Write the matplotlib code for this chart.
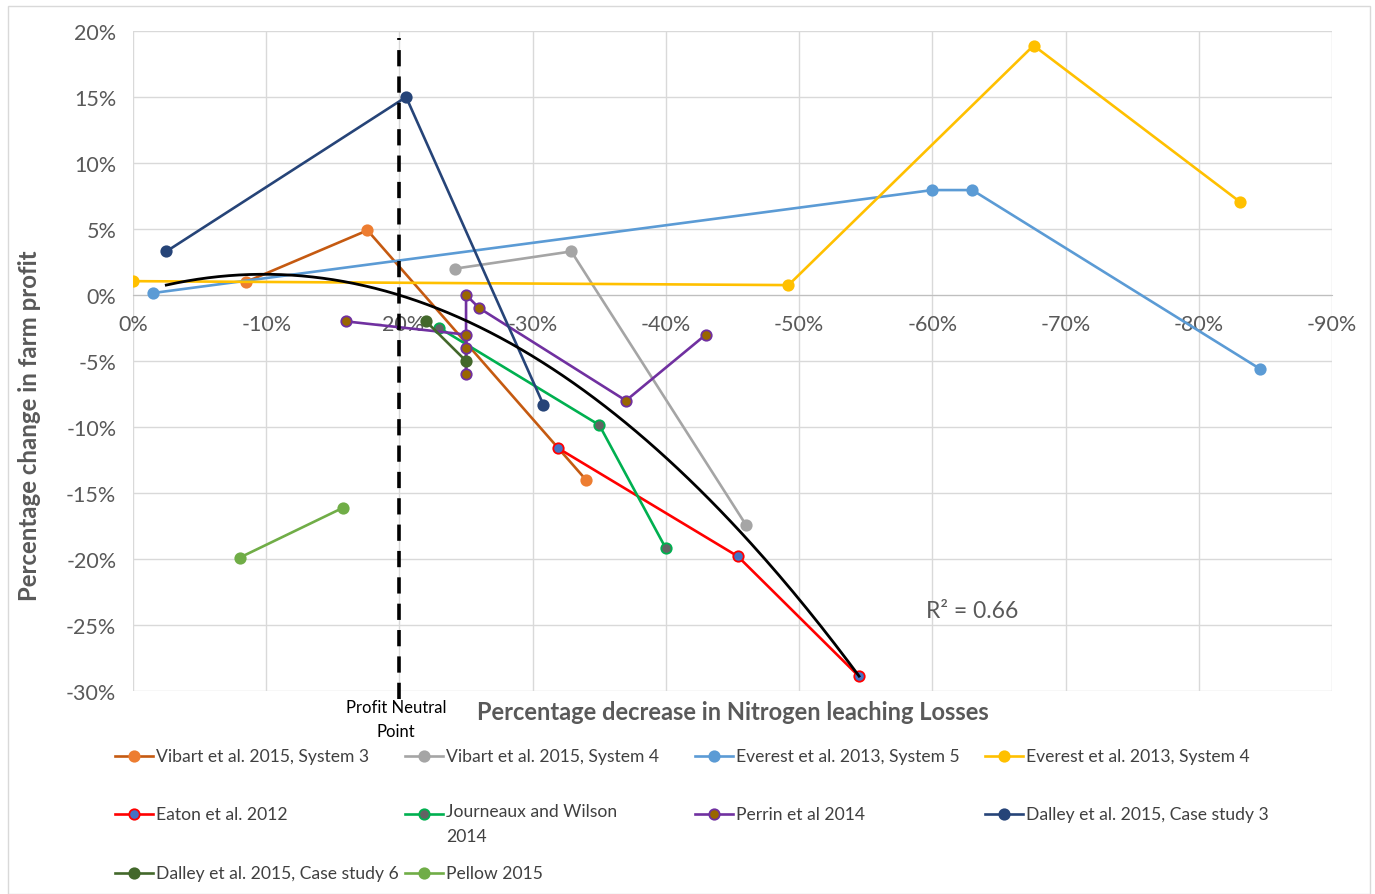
import numpy as np
import matplotlib
matplotlib.use("Agg")
import matplotlib.pyplot as plt
from matplotlib.lines import Line2D
from matplotlib.patches import Rectangle
from matplotlib.ticker import PercentFormatter

plt.rcParams['font.family'] = ['Lato', 'DejaVu Sans']
plt.rcParams['axes.unicode_minus'] = False

# x = change in N leaching (%), y = change in farm profit (%)
vibart3_x = [-8.5, -17.6, -34.0]
vibart3_y = [1.0, 4.9, -14.0]
vibart4_x = [-24.2, -32.9, -46.0]
vibart4_y = [2.0, 3.3, -17.4]
everest5_x = [-1.5, -60.0, -63.0, -84.6]
everest5_y = [0.15, 7.95, 7.95, -5.6]
everest4_x = [0.0, -49.2, -67.6, -83.1]
everest4_y = [1.05, 0.75, 18.9, 7.05]
eaton_x = [-31.9, -45.4, -54.5]
eaton_y = [-11.6, -19.8, -28.9]
journeaux_x = [-23.0, -35.0, -40.0]
journeaux_y = [-2.5, -9.85, -19.2]
perrin_x = [-16.0, -25.0, -25.0, -25.0, -25.0, -26.0, -37.0, -43.0]
perrin_y = [-2.0, -3.0, -4.0, -6.0, 0.0, -1.0, -8.0, -3.0]
dalley3_x = [-2.5, -20.5, -30.8]
dalley3_y = [3.3, 15.0, -8.3]
dalley6_x = [-22.0, -25.0]
dalley6_y = [-2.0, -5.0]
pellow_x = [-8.0, -15.8]
pellow_y = [-19.9, -16.1]

# quadratic trendline in terms of decrease d (%), y (%)
trend_coef = [-0.01525, 0.2995, 0.0994]
trend_range = [2.5, 54.5]
r2_text = "R² = 0.66"
neutral_x = -20.0

x_ticks = [0, -10, -20, -30, -40, -50, -60, -70, -80, -90]
y_ticks = [-30, -25, -20, -15, -10, -5, 0, 5, 10, 15, 20]

series = [
    ("Vibart et al. 2015, System 3", vibart3_x, vibart3_y, "#C55A11", "#ED7D31", "#ED7D31"),
    ("Vibart et al. 2015, System 4", vibart4_x, vibart4_y, "#A5A5A5", "#A5A5A5", "#A5A5A5"),
    ("Everest et al. 2013, System 5", everest5_x, everest5_y, "#5B9BD5", "#5B9BD5", "#5B9BD5"),
    ("Everest et al. 2013, System 4", everest4_x, everest4_y, "#FFC000", "#FFC000", "#FFC000"),
    ("Eaton et al. 2012", eaton_x, eaton_y, "#FF0000", "#4472C4", "#FF0000"),
    ("Journeaux and Wilson\n2014", journeaux_x, journeaux_y, "#00B050", "#636363", "#00B050"),
    ("Perrin et al 2014", perrin_x, perrin_y, "#7030A0", "#996600", "#7030A0"),
    ("Dalley et al. 2015, Case study 3", dalley3_x, dalley3_y, "#264478", "#264478", "#264478"),
    ("Dalley et al. 2015, Case study 6", dalley6_x, dalley6_y, "#43682B", "#43682B", "#43682B"),
    ("Pellow 2015", pellow_x, pellow_y, "#70AD47", "#70AD47", "#70AD47"),
]

fig = plt.figure(figsize=(13.75, 8.95), dpi=100)
ax = fig.add_axes([133/1375, 1-692/895, (1332-133)/1375, (692-32)/895])

for name, xs, ys, lc, mfc, mec in series:
    ax.plot(np.array(xs)/100, np.array(ys)/100, color=lc, lw=1.9, marker='o',
            ms=7.5, mfc=mfc, mec=mec, mew=1.3, zorder=3)

d = np.linspace(trend_range[0], trend_range[1], 200)
ax.plot(-d/100, np.polyval(trend_coef, d)/100, color='black', lw=2.0, zorder=4)

ax.axvline(neutral_x/100, ymin=-0.012, ymax=0.99, color='black', lw=2.6,
           ls=(0, (4.5, 2.8)), clip_on=False, zorder=5)

ax.set_xlim(0, -0.9)
ax.set_ylim(-0.30, 0.20)
ax.set_xticks(np.array(x_ticks)/100)
ax.set_yticks(np.array(y_ticks)/100)
ax.xaxis.set_major_formatter(PercentFormatter(1.0, decimals=0))
ax.yaxis.set_major_formatter(PercentFormatter(1.0, decimals=0))
ax.grid(True, color='#D9D9D9', lw=1)
ax.set_axisbelow(True)
for s in ['top', 'right', 'left']:
    ax.spines[s].set_visible(False)
ax.spines['bottom'].set_position(('data', 0))
ax.spines['bottom'].set_color('#BFBFBF')
ax.tick_params(length=0, labelsize=15.5, labelcolor='#595959')
ax.tick_params(axis='x', pad=14)
ax.tick_params(axis='y', pad=12)

ax.text(-0.595, -0.239, r2_text, fontsize=16.5, color='#595959', ha='left', va='center')

fig.text(396/1375, 1-720/895, "Profit Neutral\nPoint", ha='center', va='center',
         fontsize=12, color='black', linespacing=1.55)
fig.text(733/1375, 1-712/895, "Percentage decrease in Nitrogen leaching Losses",
         ha='center', va='center', fontsize=17, fontweight='bold', color='#595959')
fig.text(30/1375, 1-426/895, "Percentage change in farm profit", rotation=90,
         ha='center', va='center', fontsize=17.3, fontweight='bold', color='#595959')

# legend, row-major like the original
col_x = [115, 405, 695, 985]
row_y = [757, 815, 874]
for i, (name, xs, ys, lc, mfc, mec) in enumerate(series):
    cx = col_x[i % 4]
    fy = 1 - row_y[i // 4]/895
    fig.add_artist(Line2D([cx/1375, (cx+38)/1375], [fy, fy], color=lc, lw=1.9))
    fig.add_artist(Line2D([(cx+19)/1375], [fy], marker='o', ms=7.5, mfc=mfc, mec=mec, mew=1.3))
    if '\n' in name:
        fig.text((cx+41)/1375, fy + 11/895, name, ha='left', va='top',
                 fontsize=12.6, color='#404040', linespacing=1.7)
    else:
        fig.text((cx+41)/1375, fy, name, ha='left', va='center',
                 fontsize=12.6, color='#404040')

fig.add_artist(Rectangle((8/1375, 0), 1362/1375, 1 - 7/895, fill=False,
                         ec='#D9D9D9', lw=1, transform=fig.transFigure))

fig.savefig("out.png", dpi=100)
